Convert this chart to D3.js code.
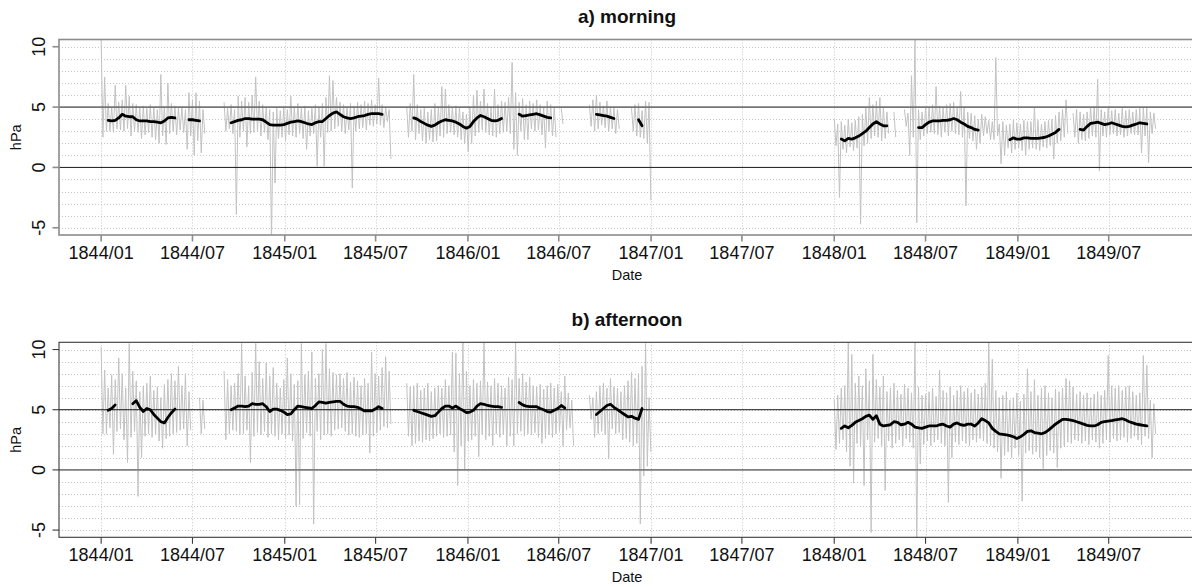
<!DOCTYPE html>
<html>
<head>
<meta charset="utf-8">
<script src="https://cdn.jsdelivr.net/npm/d3@7/dist/d3.min.js"></script>
<style>
  html, body { margin: 0; padding: 0; background: #fff; }
  svg { display: block; font-family: "Liberation Sans", Arial, Helvetica, sans-serif; }
</style>
</head>
<body>
<svg id="chart" width="1192" height="587"></svg>
<script>
// Weekly readings of daily pressure differences (hPa).
// Each run: [period origin, first week after origin, weekly values].
// *Mean = smoothed series, *High / *Low = weekly extremes of the daily values.

const morningMean = [
  ["1844-01-01", 2, [3.9, 3.85, 3.9, 4.1, 4.4, 4.25, 4.2, 4.2, 3.95, 3.85, 3.85, 3.85, 3.8, 3.8, 3.75, 3.7, 3.85, 4.1, 4.15, 4.1]],
  ["1844-01-01", 25, [3.95, 3.95, 3.9, 3.85]],
  ["1844-01-01", 37, [3.7, 3.8, 3.9, 3.95, 4.05, 4.05, 4.0, 4.0, 4.0, 3.95, 3.75, 3.55, 3.5, 3.5, 3.5, 3.55, 3.65, 3.75, 3.8, 3.85, 3.8, 3.7, 3.6, 3.55, 3.7, 3.8, 3.8, 4.05, 4.3, 4.5, 4.6, 4.4, 4.2, 4.1, 4.05, 4.1, 4.2, 4.25, 4.3, 4.4, 4.45, 4.45, 4.45, 4.4]],
  ["1844-01-01", 89, [4.1, 4.0, 3.8, 3.65, 3.5, 3.4, 3.5, 3.7, 3.85, 3.95, 3.9, 3.85, 3.75, 3.6, 3.4, 3.25, 3.4, 3.8, 4.1, 4.3, 4.2, 4.05, 3.9, 3.85, 3.9, 4.05]],
  ["1844-01-01", 119, [4.4, 4.25, 4.3, 4.35, 4.4, 4.45, 4.35, 4.25, 4.15, 4.1]],
  ["1844-01-01", 141, [4.4, 4.35, 4.3, 4.25, 4.15, 4.05]],
  ["1844-01-01", 153, [3.95, 3.45]],
  ["1848-01-01", 2, [2.35, 2.2, 2.4, 2.35, 2.45, 2.6, 2.8, 3.0, 3.3, 3.6, 3.8, 3.6, 3.45, 3.45]],
  ["1848-01-01", 24, [3.3, 3.3, 3.55, 3.75, 3.85, 3.85, 3.85, 3.9, 3.9, 3.95, 4.05, 3.95, 3.75, 3.6, 3.4, 3.3, 3.15, 3.1]],
  ["1848-01-01", 50, [2.3, 2.45, 2.35, 2.35, 2.45, 2.45, 2.4, 2.4, 2.4, 2.45, 2.5, 2.6, 2.75, 2.9, 3.15]],
  ["1848-01-01", 70, [3.15, 3.1, 3.4, 3.65, 3.7, 3.75, 3.65, 3.55, 3.6, 3.7, 3.6, 3.5, 3.4, 3.35, 3.4, 3.5, 3.6, 3.7, 3.65, 3.6]]
];

const morningHigh = [
  ["1844-01-01", 0, [10.6, 7.5, 5.3, 5.0, 6.8, 5.4, 5.6, 6.8, 5.9, 5.3, 5.2, 5.0, 5.1, 4.9, 5.2, 5.0, 4.8, 7.7, 5.0, 7.0, 5.3, 5.1, 4.9, 5.0, 4.8, 6.2, 5.6, 6.2, 5.5, 4.8]],
  ["1844-01-01", 35, [5.4, 4.9, 5.2, 4.8, 5.9, 5.5, 5.8, 5.4, 6.0, 7.5, 5.5, 5.2, 5.0, 4.8, 4.6, 4.9, 4.7, 5.0, 4.8, 5.9, 5.0, 5.3, 4.9, 5.1, 4.7, 4.9, 5.2, 5.0, 5.3, 5.8, 7.6, 7.2, 5.8, 5.4, 5.2, 5.0, 5.3, 5.1, 5.4, 5.2, 5.5, 5.3, 5.6, 5.2, 7.4, 5.2, 5.0, 4.8]],
  ["1844-01-01", 87, [5.0, 5.3, 7.7, 5.2, 4.8, 4.9, 4.6, 4.8, 5.3, 5.0, 6.7, 6.5, 5.2, 5.0, 5.1, 5.0, 4.6, 4.4, 5.0, 6.0, 6.4, 5.5, 6.5, 5.3, 5.0, 6.5, 5.2, 5.5, 5.4, 5.8, 8.7, 6.2, 5.4, 5.7, 5.2, 5.5, 5.3, 5.6, 5.2, 5.0, 5.5, 5.2, 5.0]],
  ["1844-01-01", 131, [4.9]],
  ["1844-01-01", 139, [5.2, 5.6, 6.0, 5.4, 5.1, 5.5, 5.0, 4.9, 4.8]],
  ["1844-01-01", 151, [4.9, 5.2, 5.3, 4.7, 5.5, 5.4]],
  ["1848-01-01", 0, [4.0, 3.6, 3.8, 3.5, 4.0, 3.7, 3.9, 4.2, 4.4, 5.0, 5.8, 5.2, 5.5, 5.8, 5.0, 4.6]],
  ["1848-01-01", 17, [4.6]],
  ["1848-01-01", 20, [4.8, 4.5, 7.6, 10.6, 4.8, 4.6, 4.9, 5.0, 5.2, 6.7, 5.1, 5.0, 5.2, 5.3, 5.4, 5.0, 6.3, 5.0, 4.6, 4.5, 4.3, 4.0, 4.4, 4.2, 3.9, 3.8, 9.1, 3.6, 3.8, 3.5, 3.6, 3.9, 3.7, 3.6, 3.9, 3.8, 3.8, 5.0, 3.9, 3.6, 3.8, 3.9, 4.0, 4.3, 4.6, 4.8, 5.6]],
  ["1848-01-01", 68, [4.5, 4.8, 4.6, 4.4, 4.6, 5.0, 5.0, 7.3, 4.8, 4.6, 4.9, 4.7, 4.8, 4.5, 4.9, 4.7, 4.8, 4.6, 4.8, 4.9, 5.0, 4.9, 4.6, 4.5]]
];

const morningLow = [
  ["1844-01-01", 0, [2.5, 3.0, 3.0, 2.9, 3.2, 3.1, 3.0, 3.2, 2.6, 3.0, 2.9, 2.4, 2.7, 2.9, 2.5, 2.3, 2.0, 2.6, 1.9, 2.8, 3.0, 2.7, 3.1, 2.9, 1.5, 2.6, 1.0, 2.2, 1.2, 2.8]],
  ["1844-01-01", 35, [3.0, 3.2, 2.8, -3.9, 2.5, 3.0, 1.7, 2.8, 2.9, 3.0, 2.6, 2.9, 2.3, -6.0, -1.3, 2.4, 2.5, 2.2, 2.7, 2.6, 2.5, 2.8, 2.4, 1.5, 2.6, 2.8, 0.1, 2.5, 0.1, 2.9, 3.0, 3.2, 3.4, 3.0, 2.8, 3.1, -1.7, 3.0, 3.2, 3.3, 3.1, 3.5, 3.4, 3.6, 3.5, 3.3, 3.8, 0.7]],
  ["1844-01-01", 87, [2.5, 3.0, 2.3, 2.8, 2.2, 2.0, 2.3, 2.1, 2.2, 2.6, 2.5, 2.8, 2.9, 2.7, 2.5, 2.3, 2.0, 1.3, 2.0, 2.6, 2.9, 3.1, 2.9, 2.7, 2.6, 2.5, 2.8, 2.9, 3.0, 2.8, 1.5, 1.0, 3.0, 2.3, 2.3, 3.2, 3.0, 3.1, 2.7, 1.6, 3.0, 2.6, 2.5]],
  ["1844-01-01", 131, [3.6]],
  ["1844-01-01", 139, [3.4, 3.0, 3.2, 3.5, 3.3, 3.0, 3.2, 2.8, 3.2]],
  ["1844-01-01", 151, [3.0, 2.6, 2.5, 2.4, 2.0, -2.7]],
  ["1848-01-01", 0, [1.8, -2.5, 1.5, 1.2, 1.7, 1.4, 1.6, -4.7, 1.8, 2.0, 2.4, 2.6, 2.5, 2.2, 2.4, 2.8]],
  ["1848-01-01", 17, [2.5]],
  ["1848-01-01", 20, [3.4, 1.0, 2.5, -4.6, 2.3, 2.6, 2.8, 2.9, 2.8, 2.7, 2.5, 2.9, 2.6, 3.0, 2.8, 2.7, 2.5, -3.2, 2.4, 2.2, 1.5, 2.0, 2.6, 2.8, 2.3, 2.3, 2.6, 0.3, 1.0, 1.6, 1.2, 1.5, 1.6, 1.4, 1.0, 1.5, 1.6, 1.5, 1.4, 1.7, 1.6, 1.8, 0.7, 2.0, 2.2, 2.5, 2.8]],
  ["1848-01-01", 68, [2.5, 2.0, 2.3, 2.2, 2.4, 2.6, 2.5, -0.3, 2.6, 2.5, 2.7, 2.8, 2.6, 2.7, 2.5, 2.6, 2.8, 2.7, 2.7, 1.2, 2.6, 0.4, 2.8, 3.2]]
];

const afternoonMean = [
  ["1844-01-01", 2, [4.95, 5.1, 5.4]],
  ["1844-01-01", 9, [5.5, 5.75, 5.2, 4.85, 5.1, 5.0, 4.6, 4.3, 4.0, 3.9, 4.35, 4.75, 5.05]],
  ["1844-01-01", 37, [5.0, 5.15, 5.3, 5.3, 5.25, 5.3, 5.5, 5.45, 5.45, 5.5, 5.25, 4.85, 5.05, 5.05, 4.95, 4.8, 4.6, 4.65, 5.0, 5.3, 5.25, 5.2, 5.15, 5.1, 5.35, 5.65, 5.6, 5.55, 5.6, 5.65, 5.7, 5.7, 5.45, 5.3, 5.25, 5.25, 5.2, 5.05, 4.9, 4.9, 4.9, 5.05, 5.25, 5.1]],
  ["1844-01-01", 89, [4.95, 4.85, 4.75, 4.65, 4.55, 4.45, 4.5, 4.8, 5.1, 5.3, 5.3, 5.15, 5.3, 5.1, 4.95, 4.75, 4.8, 4.95, 5.3, 5.5, 5.45, 5.35, 5.3, 5.25, 5.25, 5.2]],
  ["1844-01-01", 119, [5.6, 5.4, 5.3, 5.25, 5.25, 5.25, 5.1, 5.0, 4.85, 4.8, 4.95, 5.1, 5.35, 5.15]],
  ["1844-01-01", 141, [4.6, 4.85, 5.1, 5.35, 5.45, 5.2, 5.0, 4.8, 4.6, 4.4, 4.45, 4.3, 4.2, 5.1]],
  ["1848-01-01", 2, [3.45, 3.65, 3.5, 3.7, 3.95, 4.1, 4.25, 4.45, 4.55, 4.2, 4.5, 3.8, 3.65, 3.7, 3.75, 4.0, 3.95, 3.75, 3.8, 3.95, 3.8, 3.55, 3.5, 3.45, 3.55, 3.65, 3.65, 3.65, 3.75, 3.8, 3.65, 3.55, 3.8, 3.9, 3.75, 3.7, 3.8, 3.8, 3.65, 3.9, 4.25, 4.1, 3.9, 3.45, 3.2, 3.0, 2.95, 2.9, 2.85, 2.75, 2.6, 2.75, 2.95, 3.2, 3.25, 3.1, 3.05, 3.0, 3.1, 3.3, 3.55, 3.8, 4.0, 4.2, 4.2, 4.15, 4.1, 4.0, 3.9, 3.8, 3.7, 3.65, 3.65, 3.75, 3.95, 4.0, 4.05, 4.1, 4.15, 4.2, 4.25, 4.15, 4.0, 3.9, 3.8, 3.75, 3.7, 3.65]]
];

const afternoonHigh = [
  ["1844-01-01", 0, [10.2, 8.3, 6.8, 7.9, 7.5, 9.3, 8.0, 6.8, 10.5, 8.2, 7.4, 6.5, 7.0, 7.2, 7.8, 6.6, 6.9, 6.0, 7.1, 7.5, 8.0, 7.4, 8.6, 7.0, 8.0, 6.5]],
  ["1844-01-01", 28, [6.0, 5.8]],
  ["1844-01-01", 35, [8.2, 7.5, 7.0, 7.2, 8.0, 10.5, 7.8, 7.0, 8.1, 10.5, 9.0, 7.6, 8.9, 7.8, 8.5, 7.2, 6.8, 7.5, 9.3, 8.0, 7.1, 7.4, 10.5, 7.9, 8.2, 9.8, 7.6, 8.0, 10.0, 10.5, 8.4, 8.1, 7.9, 8.0, 7.6, 8.1, 7.3, 7.7, 7.4, 7.0, 7.6, 7.2, 9.8, 8.0, 7.8, 8.5, 9.4, 8.2]],
  ["1844-01-01", 87, [7.2, 6.9, 7.0, 7.2, 6.6, 6.8, 7.2, 6.5, 6.8, 7.0, 6.8, 7.5, 7.0, 9.8, 9.7, 8.0, 10.6, 8.2, 7.0, 7.5, 7.2, 7.4, 10.6, 7.3, 7.0, 7.6, 7.2, 7.0, 6.8, 7.7, 7.5, 10.6, 7.6, 8.0, 7.3, 7.7, 7.0, 6.9, 7.1, 6.7, 7.0, 7.2, 6.8, 7.1, 6.5, 7.8, 6.4, 5.8]],
  ["1844-01-01", 139, [6.2, 6.0, 6.5, 7.0, 7.2, 6.8, 7.6, 6.9, 6.8, 6.5, 7.0, 7.4, 8.1, 7.6, 8.0, 8.6, 10.5, 6.0]],
  ["1848-01-01", 0, [5.8, 6.2, 6.8, 7.0, 10.6, 9.6, 7.2, 7.8, 7.0, 8.4, 7.4, 9.6, 7.5, 6.9, 7.8, 6.5, 6.8, 7.2, 6.6, 6.3, 7.1, 6.8, 6.4, 10.6, 6.9, 6.2, 6.3, 6.5, 6.8, 6.1, 8.3, 6.6, 6.4, 6.9, 6.2, 6.6, 7.0, 6.5, 6.8, 6.4, 6.7, 6.3, 6.9, 7.2, 10.6, 9.2, 6.6, 6.0, 6.2, 6.5, 5.8, 6.0, 6.4, 5.7, 6.3, 8.4, 6.5, 7.5, 6.2, 6.8, 7.0, 6.4, 6.0, 6.7, 6.5, 6.8, 7.6, 7.4, 6.9, 6.3, 6.5, 6.2, 6.4, 6.0, 6.3, 6.5, 6.2, 6.6, 9.5, 7.0, 6.8, 7.0, 6.6, 6.9, 7.0, 6.5, 6.2, 6.4, 9.5, 8.7, 5.8, 5.5]]
];

const afternoonLow = [
  ["1844-01-01", 0, [3.0, 3.0, 3.5, 1.3, 3.2, 3.4, 2.5, 0.6, 2.7, 3.2, -2.2, 1.0, 2.8, 3.0, 2.7, 2.9, 2.4, 1.8, 2.6, 2.8, 3.0, 3.1, 3.3, 3.4, 2.0, 3.3]],
  ["1844-01-01", 28, [3.0, 3.4]],
  ["1844-01-01", 35, [2.5, 3.0, 3.3, 3.2, 2.9, 3.0, 3.3, 0.6, 2.8, 3.1, 2.9, 3.2, 2.7, 3.0, 2.8, 2.5, 3.0, 2.6, 2.9, 2.4, -3.0, -2.9, 2.6, 3.1, 2.8, -4.5, 3.2, 2.5, 2.9, 3.0, 2.8, 3.3, 3.4, 3.5, 3.2, 2.9, 3.0, 2.8, 2.7, 2.9, 3.0, 1.4, 2.8, 3.1, 3.3, 3.6, 3.5, 3.8]],
  ["1844-01-01", 87, [2.8, 2.0, 2.2, 2.4, 2.3, 2.5, 2.4, 2.6, 2.8, 3.0, 2.7, 2.8, 2.9, 1.5, -1.3, 2.0, 0.0, 2.4, 2.5, 2.8, 1.1, 2.9, 2.5, 2.8, 2.0, 3.0, 2.7, 2.9, 2.0, 2.8, 2.0, 3.0, 3.2, 2.8, 3.0, 2.9, 3.1, 2.7, 2.2, 2.6, 2.9, 2.7, 3.0, 3.2, 2.0, 3.3, 3.5, 2.0]],
  ["1844-01-01", 139, [4.2, 2.7, 3.0, 3.2, 2.9, 0.9, 3.4, 3.0, 3.1, 2.5, 2.6, 2.3, 2.0, 2.2, -4.5, -0.5, 0.3, 1.5]],
  ["1848-01-01", 0, [1.7, 2.2, 2.5, 1.5, 0.3, -1.1, 2.2, 2.0, -1.3, 2.5, -5.2, 2.3, 2.6, 2.0, -1.7, 2.4, 1.8, 2.2, 2.5, 2.0, 2.6, 2.3, 1.8, -5.8, 0.5, 2.1, 2.4, 2.0, 2.3, 2.5, 2.2, 2.0, -2.7, 1.0, 2.3, 2.1, 2.4, 2.2, 2.0, 2.5, 2.3, 2.6, 2.4, 2.2, 2.0, 1.8, 1.5, -0.7, 1.2, 1.5, 1.0, 1.8, 1.2, -2.6, 1.4, 1.6, 1.3, 1.5, 1.0, 0.1, 1.2, 1.6, 1.4, 0.2, 1.8, 2.0, 2.3, 2.2, 2.5, 2.4, 2.2, 2.4, 2.1, 2.5, 2.3, 1.8, 2.2, 2.5, 2.3, 2.6, 2.4, 2.5, 2.7, 2.3, 2.6, 2.8, 2.5, 2.1, 2.8, 2.6, 1.0, 3.0]]
];

const yTicks = [-5, 0, 5, 10];
const yGrid = [-5, -4, -3, -2, -1, 0, 1, 2, 3, 4, 5, 6, 7, 8, 9, 10];
const yDomain = [-5.6, 10.6];
const xDomain = ["1843-10-09", "1849-12-20"];
const refLines = [0, 5];

// ---- layout ----
const svg = d3.select("#chart");
const parse = d3.utcParse("%Y-%m-%d");
const left = 59, right = 1195;

const x = d3.scaleUtc().domain(xDomain.map(parse)).range([left, right]);
const xTicks = d3.utcMonth.every(6).range(parse("1844-01-01"), parse("1849-07-02"));
const fmt = d3.utcFormat("%Y/%m");

const panels = [
  { title: "a) morning", mean: morningMean, high: morningHigh, low: morningLow,
    top: 39.5, bottom: 235,
    frame: "#8c8c8c", frameW: 1.6, line0: "#1a1a1a", line0W: 1, line5: "#767676", line5W: 1.6 },
  { title: "b) afternoon", mean: afternoonMean, high: afternoonHigh, low: afternoonLow,
    top: 342.3, bottom: 537.3,
    frame: "#3a3a3a", frameW: 1.1, line0: "#808080", line0W: 1.6, line5: "#1a1a1a", line5W: 1 }
];

const dayMs = 864e5;
const weekDate = (origin, w, extraDays) =>
  new Date(parse(origin).getTime() + (w * 7 + extraDays) * dayMs);

panels.forEach((p, i) => {
  const y = d3.scaleLinear().domain(yDomain).range([p.bottom, p.top]);
  const g = svg.append("g");
  const clipId = "clip" + i;
  svg.append("clipPath").attr("id", clipId)
    .append("rect").attr("x", left).attr("y", p.top)
    .attr("width", right - left).attr("height", p.bottom - p.top);

  // dotted grid
  const grid = g.append("g").attr("stroke", "#c4c4c4").attr("stroke-width", 1)
    .attr("stroke-dasharray", "1 2");
  grid.selectAll("line.h").data(yGrid).join("line").attr("class", "h")
    .attr("x1", left).attr("x2", right)
    .attr("y1", d => Math.round(y(d)) + 0.5).attr("y2", d => Math.round(y(d)) + 0.5);
  grid.selectAll("line.v").data(xTicks).join("line").attr("class", "v")
    .attr("y1", p.top).attr("y2", p.bottom)
    .attr("x1", d => Math.round(x(d)) + 0.5).attr("x2", d => Math.round(x(d)) + 0.5);

  const plot = g.append("g").attr("clip-path", `url(#${clipId})`);

  // daily values: each week goes from its high to its low
  const daily = d3.line().x(d => x(d[0])).y(d => y(d[1]));
  p.high.forEach((run, k) => {
    const [origin, w0, hi] = run;
    const lo = p.low[k][2];
    const pts = [];
    hi.forEach((v, j) => {
      pts.push([weekDate(origin, w0 + j, 0), v]);
      pts.push([weekDate(origin, w0 + j, 3.5), lo[j]]);
    });
    plot.append("path").datum(pts).attr("d", daily)
      .attr("fill", "none").attr("stroke", "#c2c2c2").attr("stroke-width", 1)
      .attr("stroke-linejoin", "round");
  });

  // reference lines at 0 and 5 hPa
  plot.append("line").attr("x1", left).attr("x2", right)
    .attr("y1", y(refLines[0])).attr("y2", y(refLines[0]))
    .attr("stroke", p.line0).attr("stroke-width", p.line0W);
  plot.append("line").attr("x1", left).attr("x2", right)
    .attr("y1", y(refLines[1])).attr("y2", y(refLines[1]))
    .attr("stroke", p.line5).attr("stroke-width", p.line5W);

  // smoothed series
  const smooth = d3.line().x(d => x(d[0])).y(d => y(d[1]));
  p.mean.forEach(([origin, w0, vals]) => {
    const pts = vals.map((v, j) => [weekDate(origin, w0 + j, 0), v]);
    plot.append("path").datum(pts).attr("d", smooth)
      .attr("fill", "none").attr("stroke", "#000").attr("stroke-width", 2.8)
      .attr("stroke-linejoin", "round").attr("stroke-linecap", "round");
  });

  // frame
  g.append("rect").attr("x", left).attr("y", p.top)
    .attr("width", right - left).attr("height", p.bottom - p.top)
    .attr("fill", "none").attr("stroke", p.frame).attr("stroke-width", p.frameW);

  // y axis
  const ya = g.append("g");
  ya.selectAll("line").data(yTicks).join("line")
    .attr("x1", left - 6.5).attr("x2", left)
    .attr("y1", d => y(d)).attr("y2", d => y(d))
    .attr("stroke", p.frame).attr("stroke-width", p.frameW);
  ya.selectAll("text").data(yTicks).join("text")
    .attr("transform", d => `translate(45,${y(d)}) rotate(-90)`)
    .attr("text-anchor", "middle").attr("font-size", 18).attr("fill", "#111")
    .text(d => d);

  // x axis
  const xa = g.append("g");
  xa.selectAll("line").data(xTicks).join("line")
    .attr("x1", d => x(d)).attr("x2", d => x(d))
    .attr("y1", p.bottom).attr("y2", p.bottom + 6.5)
    .attr("stroke", p.frame).attr("stroke-width", p.frameW);
  xa.selectAll("text").data(xTicks).join("text")
    .attr("x", d => x(d)).attr("y", p.bottom + 23.5)
    .attr("text-anchor", "middle").attr("font-size", 18).attr("fill", "#111")
    .text(d => fmt(d));

  // titles
  const cx = (left + right) / 2;
  g.append("text").attr("x", cx).attr("y", p.top - 16.5)
    .attr("text-anchor", "middle").attr("font-size", 19).attr("font-weight", "bold")
    .attr("fill", "#111").text(p.title);
  g.append("text").attr("x", cx).attr("y", p.bottom + 45)
    .attr("text-anchor", "middle").attr("font-size", 14.5).attr("fill", "#111")
    .text("Date");
  g.append("text")
    .attr("transform", `translate(21,${(p.top + p.bottom) / 2}) rotate(-90)`)
    .attr("text-anchor", "middle").attr("font-size", 14.5).attr("fill", "#111")
    .text("hPa");
});
</script>
</body>
</html>
